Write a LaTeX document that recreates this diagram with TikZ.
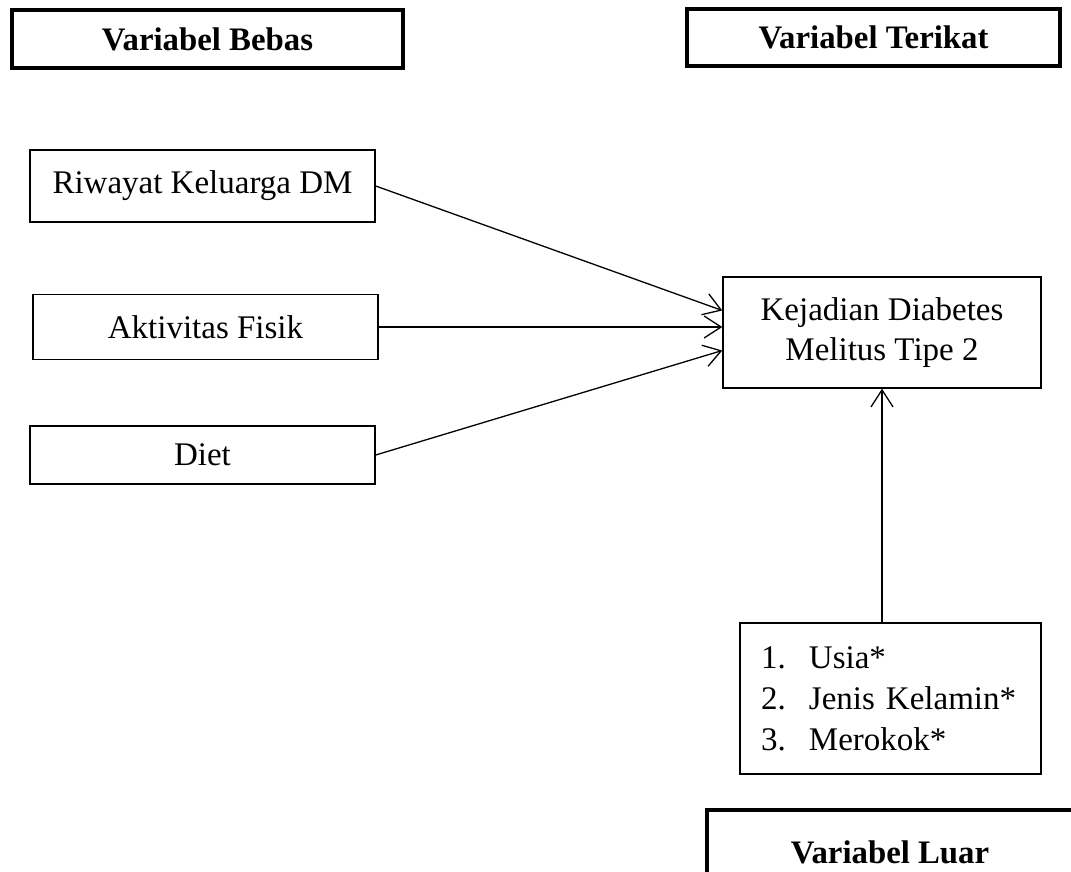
\documentclass[tikz,border=0pt]{standalone}
\usepackage{fontspec}
\setmainfont{Liberation Serif}
\usetikzlibrary{arrows.meta, positioning}

\tikzset{
  headbox/.style={draw,line width=4.5pt,inner sep=0pt,font=\fontsize{32.8}{38}\selectfont\bfseries},
  varbox/.style={draw,line width=1.4pt,inner sep=0pt,align=center,font=\fontsize{33}{40}\selectfont},
  link/.style={line width=1.3pt,-{Straight Barb[length=17pt,width=22pt]}}
}

\begin{document}
\begin{tikzpicture}[x=1pt,y=-1pt]
    \clip (0,0) rectangle (1071,872);

    % Header boxes
    \node[headbox,minimum width=391pt,minimum height=58pt] (bebas) at (207.5,39) {Variabel Bebas};
    \node[headbox,minimum width=373pt,minimum height=57pt] (terikat) at (873.5,37.5) {Variabel Terikat};
    \node[headbox,minimum width=366pt,minimum height=84pt] (luar) at (890,852) {Variabel Luar};

    % Independent variables
    \node[varbox,minimum width=345pt,minimum height=72pt] (riwayat) at (202.5,186) {Riwayat Keluarga DM};
    \node[varbox,minimum width=345pt,minimum height=65pt] (aktivitas) at (205.5,327) {Aktivitas Fisik};
    \node[varbox,minimum width=345pt,minimum height=58pt] (diet) at (202.5,455) {Diet};

    % Dependent variable
    \node[varbox,minimum width=318pt,minimum height=111pt] (kejadian) at (882,332.5) {Kejadian Diabetes\\Melitus Tipe 2};

    % External variables
    \node[varbox,align=left,text width=259pt,inner xsep=21pt,minimum height=151pt,
          font=\fontsize{33}{41}\selectfont] (luarlist) at (890.5,698.5)
          {\makebox[48pt][l]{1.}Usia*\\\makebox[48pt][l]{2.}Jenis Kelamin*\\\makebox[48pt][l]{3.}Merokok*};

    % Arrows
    \draw[link] (riwayat.east) -- ([yshift=22pt]kejadian.west);
    \draw[link] (aktivitas.east) -- (kejadian.west |- aktivitas.east);
    \draw[link] (diet.east) -- ([yshift=-18pt]kejadian.west);
    \draw[link] (kejadian.south |- luarlist.north) -- (kejadian.south);
\end{tikzpicture}
\end{document}
